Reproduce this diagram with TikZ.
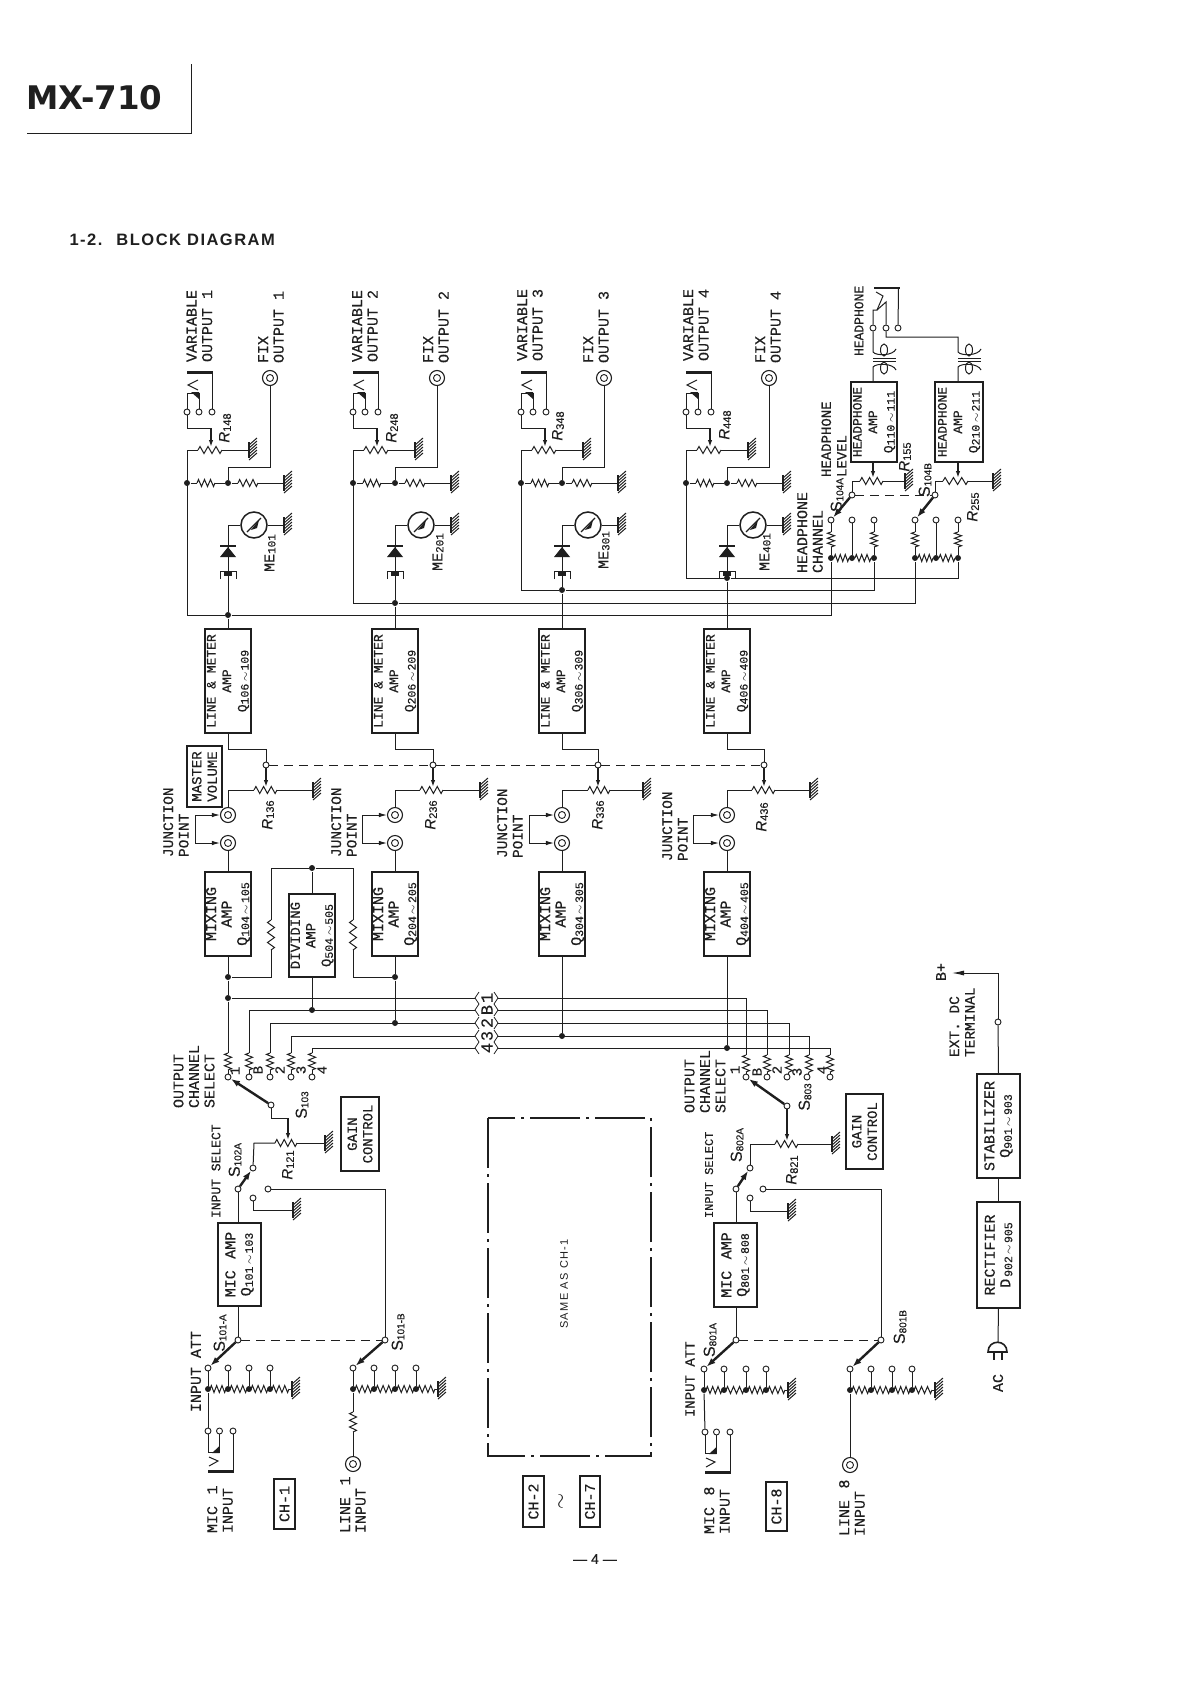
\documentclass[tikz,border=0pt]{standalone}
\usepackage{fontspec}
\setmainfont[FakeBold=0.35]{Liberation Mono}
\newfontfamily\snf[FakeBold=0.25]{Liberation Sans}
\newfontfamily\hdf[LetterSpace=9]{Liberation Sans}
\newfontfamily\smf[LetterSpace=12]{Liberation Sans}
\newfontfamily\ttl{DejaVu Sans}
\usetikzlibrary{arrows.meta}
\newcommand\fs[1]{\fontsize{#1}{15.5}\selectfont}
\newcommand\Qq[1]{Q\raisebox{-2pt}{\fontsize{11.5}{11.5}\selectfont #1}}
\newcommand\Rr[1]{{\snf\itshape\fontsize{15}{15}\selectfont R}\raisebox{-1.5pt}{\snf\fontsize{11}{11}\selectfont #1}}
\newcommand\Ss[1]{{\snf\fontsize{16}{16}\selectfont S}\raisebox{-1.5pt}{\snf\fontsize{10}{10}\selectfont #1}}
\newcommand\Mm[1]{ME\raisebox{-1pt}{\fontsize{11}{11}\selectfont #1}}
\newcounter{lbn}
\tikzset{
 lb/.style={rotate=90,anchor=west,align=left,inner sep=0,outer sep=0},
 lc/.style={rotate=90,anchor=center,align=center,inner sep=0,outer sep=0},
 blk/.style={draw,rotate=90,align=center,inner sep=0,outer sep=0},
 tm/.style={circle,draw,fill=white,inner sep=0,minimum size=6,line width=.9pt},
 dotj/.style={circle,fill,inner sep=0,minimum size=6},
 coax/.style={circle,draw,inner sep=0,minimum size=15,line width=1.1pt},
 coaxi/.style={circle,draw,inner sep=0,minimum size=7,line width=.9pt},
 wip/.style={-{Latex[length=7,width=4.5]},line width=1.4pt},
 lever/.style={line width=2.4pt,-{Latex[length=9,width=6.5]}},
 link/.style={dash pattern=on 9pt off 6pt,line width=.9pt},
 jar/.style={-{Latex[length=8,width=4.5]}},
 dashdot/.style={dash pattern=on 50pt off 6pt on 3pt off 6pt,line width=1.1pt},
}
\newcommand\Lb[4][15]{\stepcounter{lbn}\node[lb,font=\fs{#1}] (lb\arabic{lbn}) at (#2,#3) {#4};}
\newcommand\Lc[4][15]{\stepcounter{lbn}\node[lc,font=\fs{#1}] (lb\arabic{lbn}) at (#2,#3) {#4};}
\newcommand\Bx[8]{\node[blk,line width=#6pt,font=\fs{#7},minimum width={#5-#4},minimum height={#3-#2}] (#1) at ({(#2+#3)/2},{(#4+#5)/2}) {#8};}
\newcommand\RH[3]{\draw ({#1},#3) -- ++({(#2-(#1))/12},-3.5) -- ++({(#2-(#1))/6},7) -- ++({(#2-(#1))/6},-7) -- ++({(#2-(#1))/6},7) -- ++({(#2-(#1))/6},-7) -- ++({(#2-(#1))/6},7) -- ++({(#2-(#1))/12},-3.5);}
\newcommand\RV[3]{\draw (#1,#2) -- ++(-3.5,{(#3-#2)/12}) -- ++(7,{(#3-#2)/6}) -- ++(-7,{(#3-#2)/6}) -- ++(7,{(#3-#2)/6}) -- ++(-7,{(#3-#2)/6}) -- ++(7,{(#3-#2)/6}) -- ++(-3.5,{(#3-#2)/12});}
\newcommand\GH[3]{\coordinate (#1) at (#2,#3);
 \draw[line width=2.4pt] (#2,#3-8) -- (#2,#3+8);
 \foreach \k in {-5,-2,1,4,7,10} {\draw[line width=1pt] (#2,#3+\k) -- (#2+8,#3+\k-7);}}
\newcommand\Co[3]{\node[coax] (#1) at (#2,#3) {}; \node[coaxi] (#1i) at (#2,#3) {};}
\newcommand\Dot[3]{\node[dotj] (#1) at (#2,#3) {};}
\newcommand\Tm[3]{\node[tm] (#1) at (#2,#3) {};}
\newcommand\OutCh[3]{%
 \Tm{#1ta}{#2}{412}\Tm{#1tb}{#2+12}{412}\Tm{#1tc}{#2+25}{412}
 \draw[line width=2.6pt] (#2,372.5) -- (#2+25.5,372.5);
 \draw (#2+25,372) -- (#1tc);
 \draw (#1ta) -- (#2,393) -- (#2+12,393) -- (#1tb);
 \fill (#2+12,392) -- (#2+12,399) -- (#2+4,392) -- cycle;
 \draw (#2+11,380) -- (#2+1,385) -- (#2+11,390);
 \draw (#1ta) -- (#2,428) -- (#2+24,428);
 \draw[wip] (#2+24,428) -- (#2+24,447);
 \coordinate (#1pl) at (#2,450);
 \draw (#1pl) -- (#2+11,450); \RH{#2+11}{#2+35}{450}
 \GH{#1gu}{#2+62}{450}
 \draw (#2+35,450) -- (#1gu);
 \Dot{#1ja}{#2}{483}\Dot{#1jb}{#3}{483}
 \draw (#1ja) -- (#2+10,483); \RH{#2+10}{#2+28}{483} \draw (#2+28,483) -- (#1jb) -- (#3+10,483);
 \RH{#3+10}{#3+30}{483}
 \GH{#1gm}{#3+56}{483}
 \draw (#3+30,483) -- (#1gm);
 \Co{#1fx}{#3+42}{378}
 \draw (#1fx) -- (#3+42,467) -- (#3,467) -- (#1jb);
 \node[circle,draw,inner sep=0,minimum size=26,line width=1.5pt] (#1me) at (#3+26,525) {};
 \GH{#1gl}{#3+56}{525}
 \draw (#1me) -- (#1gl);
 \draw (#1me) -- (#3,525) -- (#3,548);
 \draw[line width=1.3pt] (#3+19,532) -- (#3+33,518);
 \fill (#3+23,530) -- (#3+31,520) -- (#3+29,528) -- cycle;
 \fill (#3-8,557) -- (#3+8,557) -- (#3,547) -- cycle;
 \draw[line width=1.6pt] (#3-8,546) -- (#3+8,546);
 \draw (#3-8,579) -- (#3-8,571) -- (#3+8,571) -- (#3+8,579);
 \fill (#3-4,572) rectangle (#3+4,576);
 \draw (#3,557) -- (#3,572);
}
\newcommand\Lev[7]{%
 \Tm{#1tw}{#3}{765}
 \draw (#2,733) -- (#2,749) -- (#3,749) -- (#1tw);
 \draw[wip] (#1tw) -- (#3,787);
 \Co{#1ju}{#2}{815}\Co{#1jl}{#2}{843}
 \draw (#1ju) -- (#2,790) -- (#4,790);
 \RH{#4}{#5}{790}
 \GH{#1gp}{#6}{790}
 \draw (#5,790) -- (#1gp);
 \draw[jar] (#7,829) -- (#7,815) -- (#1ju.west);
 \draw[jar] (#7,829) -- (#7,843) -- (#1jl.west);
}
\newcommand\Chain[8]{%
 \Tm{#1a}{#2}{#8}\Tm{#1b}{#3}{#8}\Tm{#1c}{#4}{#8}\Tm{#1d}{#5}{#8}
 \Dot{#1ja}{#2}{#7}\Dot{#1jb}{#3}{#7}\Dot{#1jc}{#4}{#7}\Dot{#1jd}{#5}{#7}
 \draw (#1b) -- (#1jb); \draw (#1c) -- (#1jc); \draw (#1d) -- (#1jd); \draw (#1a) -- (#1ja);
 \RH{#2+2}{#3-2}{#7}\RH{#3+2}{#4-2}{#7}\RH{#4+2}{#5-2}{#7}\RH{#5+2}{#6-3}{#7}
 \draw (#6-3,#7) -- (#6,#7);
 \GH{#1g}{#6}{#7}
}
\newcommand\InJack[3]{%
 \Tm{#1a}{#2}{#3}\Tm{#1b}{#2+11.5}{#3}\Tm{#1c}{#2+25}{#3}
 \draw[line width=2.6pt] (#2,#3+40.5) -- (#2+25.5,#3+40.5);
 \draw (#1c) -- (#2+25,#3+41);
 \draw (#1a) -- (#2,#3+21) -- (#2+11.5,#3+21) -- (#1b);
 \fill (#2+11.5,#3+22) -- (#2+11.5,#3+15) -- (#2+4,#3+22) -- cycle;
 \draw (#2+1,#3+26) -- (#2+10,#3+30) -- (#2+1,#3+35);
}
\newcommand\Mark[2]{%
 \draw[line width=.8pt] (479,#1-6) -- (475,#1) -- (479,#1+6);
 \draw[line width=.8pt] (494,#1-6) -- (498,#1) -- (494,#1+6);
 \Lc[17]{487}{#1}{#2}
}
\begin{document}
\begin{tikzpicture}[x=1pt,y=-1pt,line width=1pt,color=black!88,text=black!88]
\fill[white] (0,0) rectangle (1191,1683);
\useasboundingbox (0,0) rectangle (1191,1683);
% heading
\node[anchor=west,inner sep=0,font={\ttl\bfseries\fontsize{32.5}{32.5}\selectfont}] (title) at (26,98) {MX-710};
\coordinate (tc1) at (27,133); \coordinate (tc2) at (191,133); \coordinate (tc3) at (191,64);
\draw[line width=.8pt] (tc1) -- (tc2) -- (tc3);
\node[anchor=west,inner sep=0,font={\hdf\bfseries\fontsize{16.5}{16.5}\selectfont}] (sect) at (69,240) {1-2.\hspace{6pt} BLOCK DIAGRAM};
\node[inner sep=0,font={\snf\fontsize{14}{14}\selectfont}] (pg) at (595,1559) {\textemdash\ 4 \textemdash};

% OUTPUT SECTIONS
\OutCh{a}{187}{228}\OutCh{b}{353}{395}\OutCh{c}{521}{562}\OutCh{d}{686}{727}
\Lb{199.5}{362}{VARIABLE\\OUTPUT 1}\Lb{271}{363}{FIX\\OUTPUT 1}
\Lb{365}{362}{VARIABLE\\OUTPUT 2}\Lb{436}{363}{FIX\\OUTPUT 2}
\Lb{530}{361}{VARIABLE\\OUTPUT 3}\Lb{596}{363}{FIX\\OUTPUT 3}
\Lb{696}{361}{VARIABLE\\OUTPUT 4}\Lb{768}{363}{FIX\\OUTPUT 4}
\Lc{225}{428}{\Rr{148}}\Lc{392}{428}{\Rr{248}}\Lc{558}{426}{\Rr{348}}\Lc{725}{425}{\Rr{448}}
\Lc{270}{553}{\Mm{101}}\Lc{438}{552}{\Mm{201}}\Lc{604}{550}{\Mm{301}}\Lc{765}{552}{\Mm{401}}

% blocks
\Bx{lm1}{205}{251}{629}{733}{1.6}{13}{LINE \& METER\\AMP\\\Qq{106\,$\sim$\,109}}
\Bx{lm2}{372}{418}{629}{733}{1.6}{13}{LINE \& METER\\AMP\\\Qq{206\,$\sim$\,209}}
\Bx{lm3}{539}{585}{629}{733}{1.6}{13}{LINE \& METER\\AMP\\\Qq{306\,$\sim$\,309}}
\Bx{lm4}{704}{750}{629}{733}{1.6}{13}{LINE \& METER\\AMP\\\Qq{406\,$\sim$\,409}}
\Bx{mix1}{205}{251}{872}{956}{1.6}{15}{MIXING\\AMP\\\Qq{104\,$\sim$\,105}}
\Bx{mix2}{372}{418}{872}{956}{1.6}{15}{MIXING\\AMP\\\Qq{204\,$\sim$\,205}}
\Bx{mix3}{539}{585}{872}{956}{1.6}{15}{MIXING\\AMP\\\Qq{304\,$\sim$\,305}}
\Bx{mix4}{704}{750}{872}{956}{1.6}{15}{MIXING\\AMP\\\Qq{404\,$\sim$\,405}}
\Bx{div}{289}{335}{894}{977}{2.2}{14}{DIVIDING\\AMP\\\Qq{504\,$\sim$\,505}}
\Bx{mast}{187}{222}{746}{807}{2}{14}{MASTER\\VOLUME}
\Bx{gc1}{341}{379}{1097}{1171}{1.6}{14}{GAIN\\CONTROL}
\Bx{gc8}{846}{883}{1094}{1169}{1.6}{14}{GAIN\\CONTROL}
\Bx{mic1}{218}{261}{1223}{1306}{1.8}{15}{MIC\, AMP\\\Qq{101\,$\sim$\,103}}
\Bx{mic8}{714}{757}{1223}{1307}{1.8}{15}{MIC\, AMP\\\Qq{801\,$\sim$\,808}}
\Bx{stab}{977}{1020}{1074}{1178}{1.8}{15}{STABILIZER\\\Qq{901\,$\sim$\,903}}
\Bx{rect}{977}{1020}{1202}{1308}{1.8}{15}{RECTIFIER\\D\raisebox{-2pt}{\fontsize{11.5}{11.5}\selectfont\,902\,$\sim$\,905}}
\Bx{hpa}{851}{897}{382}{462}{2}{13}{HEADPHONE\\AMP\\\Qq{110\,$\sim$\,111}}
\Bx{hpb}{935}{983}{382}{462}{2}{13}{HEADPHONE\\AMP\\\Qq{210\,$\sim$\,211}}
\Bx{ch1}{274}{295}{1479}{1529}{1.6}{15}{CH-1}
\Bx{ch2}{523}{544}{1476}{1527}{1.6}{15}{CH-2}
\Bx{ch7}{580}{600}{1476}{1527}{1.6}{15}{CH-7}
\Bx{ch8}{766}{787}{1482}{1531}{1.6}{15}{CH-8}
\Lc[22]{562}{1501}{$\sim$}

% buses to headphone section
\Dot{ja}{228}{615}\Dot{jb}{395}{603}\Dot{jc}{562}{590}\Dot{jd}{727}{578}
\draw (228,572) -- (ja) -- (lm1.east);
\draw (395,572) -- (jb) -- (lm2.east);
\draw (562,572) -- (jc) -- (lm3.east);
\draw (727,572) -- (jd) -- (lm4.east);

% headphone section
\Dot{ha1}{831}{558}\Dot{ha2}{852}{558}\Dot{ha3}{874}{558}
\Dot{hb1}{915}{558}\Dot{hb2}{936}{558}\Dot{hb3}{958}{558}
\Tm{hat1}{831}{520}\Tm{hat2}{852}{520}\Tm{hat3}{874}{520}\Tm{hac}{852}{495}
\Tm{hbt1}{915}{520}\Tm{hbt2}{936}{520}\Tm{hbt3}{958}{520}\Tm{hbc}{935}{495}
\RH{834}{849}{558}\RH{855}{871}{558}\RH{918}{933}{558}\RH{939}{955}{558}
\RV{831}{532}{547}\RV{874}{532}{547}\RV{915}{532}{547}\RV{958}{532}{547}
\draw (hat1) -- (831,532); \draw (831,547) -- (ha1);
\draw (hat3) -- (874,532); \draw (874,547) -- (ha3);
\draw (hbt1) -- (915,532); \draw (915,547) -- (hb1);
\draw (hbt3) -- (958,532); \draw (958,547) -- (hb3);
\draw (hat2) -- (ha2); \draw (hbt2) -- (hb2);
\draw[lever] (hac) -- (hat1); \draw[lever] (hbc) -- (hbt1);
\draw[link] (hac) -- (hbc);
\draw (hac) -- (852,481) -- (860,481); \RH{860}{883}{481} \GH{hag}{905}{481} \draw (883,481) -- (hag);
\draw (hbc) -- (935,481) -- (943,481); \RH{943}{968}{481} \GH{hbg}{993}{481} \draw (968,481) -- (hbg);
\draw[wip] (873,462) -- (873,478); \draw[wip] (958,462) -- (958,478);
\draw (apl) -- (187,615) -- (ja) -- (831,615) -- (ha1);
\draw (bpl) -- (353,603) -- (jb) -- (915,603) -- (hb1);
\draw (cpl) -- (521,590) -- (jc) -- (874,590) -- (ha3);
\draw (dpl) -- (686,578) -- (jd) -- (958,578) -- (hb3);
% headphone jack + transformers
\Tm{ht1}{873}{328}\Tm{ht2}{886}{328}\Tm{ht3}{898}{328}
\draw[line width=2.6pt] (874,288) -- (899.5,288);
\draw (898.5,288) -- (ht3);
\draw (ht1) -- (873,310) -- (877,310) -- (883,296) -- (876,292);
\draw (ht2) -- (886,302) -- (877,310);
\draw (ht1) -- (873,352) .. controls (876,356) and (893,356) .. (896,349);
\draw (884,350) ellipse (3.5 and 6);
\draw (873,358) -- (896,358); \draw (873,361) -- (896,361);
\draw (884,368) ellipse (3.5 and 6);
\draw (873,382) -- (873,367) .. controls (876,363) and (893,363) .. (896,370);
\draw (ht2) -- (886,337) -- (958,337) -- (958,352) .. controls (961,356) and (978,356) .. (981,349);
\draw (969,350) ellipse (3.5 and 6);
\draw (958,358) -- (981,358); \draw (958,361) -- (981,361);
\draw (969,368) ellipse (3.5 and 6);
\draw (958,382) -- (958,367) .. controls (961,363) and (978,363) .. (981,370);
\Lb[13]{859}{356}{HEADPHONE}
\Lb[15]{810}{573}{HEADPHONE\\CHANNEL}
\Lb[14]{834}{477}{HEADPHONE\\LEVEL}
\Lc{837}{495}{\Ss{104A}}\Lc{925}{480}{\Ss{104B}}
\Lc{905}{457}{\Rr{155}}\Lc{973}{507}{\Rr{255}}

% LEVEL SECTION
\Lev{la}{228}{266}{254}{277}{313}{195}
\Lev{lb}{395}{433}{420}{443}{480}{362}
\Lev{lc}{562}{598}{588}{610}{643}{529}
\Lev{ld}{727}{764}{752}{775}{810}{693}
\draw[link] (latw) -- (lbtw) -- (lctw) -- (ldtw);
\Lb[14.5]{176}{857}{JUNCTION\\POINT}\Lb[14.5]{344}{857}{JUNCTION\\POINT}
\Lb[14.5]{510}{858}{JUNCTION\\POINT}\Lb[14.5]{675}{861}{JUNCTION\\POINT}
\Lc{268}{815}{\Rr{136}}\Lc{431}{815}{\Rr{236}}\Lc{598}{815}{\Rr{336}}\Lc{762}{817}{\Rr{436}}
\draw (lajl) -- (mix1.east); \draw (lbjl) -- (mix2.east);
\draw (lcjl) -- (mix3.east); \draw (ldjl) -- (mix4.east);

% DIVIDING AMP
\Dot{dj}{312}{868}\Dot{mj1}{228}{977}\Dot{mj2}{395}{977}
\draw (div.east) -- (dj);
\draw (dj) -- (271,868) -- (271,920); \RV{271}{920}{950} \draw (271,950) -- (271,977) -- (mj1);
\draw (dj) -- (353,868) -- (353,920); \RV{353}{920}{950} \draw (353,950) -- (353,977) -- (mj2);

% SELECT BUS
\Dot{sj1}{228}{998}\Dot{dv}{312}{1010}\Dot{m2}{395}{1023}\Dot{m3}{562}{1036}\Dot{m4}{727}{1048}
\draw (mix1.west) -- (mj1) -- (sj1) -- (228,1053);
\draw (div.west) -- (dv);
\draw (mix2.west) -- (mj2) -- (m2);
\draw (mix3.west) -- (m3);
\draw (mix4.west) -- (m4);
\draw (sj1) -- (475,998); \draw (498,998) -- (746,998) -- (746,1055);
\draw (249,1053) -- (249,1010) -- (475,1010); \draw (498,1010) -- (767,1010) -- (767,1055);
\draw (270,1053) -- (270,1023) -- (475,1023); \draw (498,1023) -- (789,1023) -- (789,1055);
\draw (291,1053) -- (291,1036) -- (475,1036); \draw (498,1036) -- (809,1036) -- (809,1055);
\draw (312,1053) -- (312,1048) -- (475,1048); \draw (498,1048) -- (830,1048) -- (830,1055);
\Mark{998}{1}\Mark{1010}{B}\Mark{1023}{2}\Mark{1036}{3}\Mark{1048}{4}

% CH-1 select
\Tm{st1}{228}{1077}\Tm{st2}{249}{1077}\Tm{st3}{270}{1077}\Tm{st4}{291}{1077}\Tm{st5}{312}{1077}
\RV{228}{1053}{1070}\RV{249}{1053}{1070}\RV{270}{1053}{1070}\RV{291}{1053}{1070}\RV{312}{1053}{1070}
\draw (228,1070) -- (st1); \draw (249,1070) -- (st2); \draw (270,1070) -- (st3); \draw (291,1070) -- (st4); \draw (312,1070) -- (st5);
\Lc[14]{235}{1071}{1}\Lc[14]{258}{1070}{B}\Lc[14]{280}{1070}{2}\Lc[14]{301}{1070}{3}\Lc[14]{322}{1070}{4}
\Tm{scm}{271}{1105}
\draw[lever] (scm) -- (st1);
\draw (scm) -- (271,1118) -- (288,1118);
\draw[wip] (288,1118) -- (288,1140);
\RH{275}{297}{1143}
\GH{sgn}{325}{1143}
\draw (297,1143) -- (sgn);
\Tm{ipc}{253}{1168}\Tm{ipa}{238}{1189}\Tm{ipb}{253}{1198}\Tm{ipd}{268}{1189}
\draw (ipc) -- (254,1143) -- (275,1143);
\draw[lever] (ipa) -- (ipc);
\draw (ipa) -- (238,1223);
\GH{ipg}{293}{1210}
\draw (ipb) -- (253,1210) -- (ipg);
\Tm{ac}{238}{1340}\Tm{bc}{385}{1340}
\draw (ipd) -- (385,1189) -- (bc);
\draw (238,1306) -- (ac);
\draw[link] (ac) -- (bc);
\Chain{pa}{208}{228}{249}{270}{292}{1389}{1368}
\Chain{pb}{353}{374}{395}{416}{438}{1389}{1368}
\draw[lever] (ac) -- (paa); \draw[lever] (bc) -- (pba);
\InJack{ji1}{208}{1431}
\draw (paja) -- (ji1a);
\RV{353}{1412}{1432}
\draw (pbja) -- (353,1412); \Co{lj1}{353}{1464} \draw (353,1432) -- (lj1);
\Lb{194}{1108}{OUTPUT\\CHANNEL\\SELECT}
\Lb[13]{216}{1218}{INPUT SELECT}
\Lb{196}{1412}{INPUT ATT}
\Lb{220}{1533}{MIC\, 1\\INPUT}
\Lb{353}{1533}{LINE\, 1\\INPUT}
\Lc{302}{1105}{\Ss{103}}\Lc{235}{1160}{\Ss{102A}}\Lc{288}{1165}{\Rr{121}}
\Lc{220}{1333}{\Ss{101-A}}\Lc{398}{1332}{\Ss{101-B}}

% SAME AS CH-1
\coordinate (sa) at (488,1118); \coordinate (sb) at (651,1456);
\draw[dashdot] (sa) rectangle (sb);
\node[lc,font={\smf\fontsize{11}{11}\selectfont}] (same) at (564,1284) {SAME AS CH-1};

% CH-8 select
\Tm{tt1}{746}{1077}\Tm{tt2}{767}{1077}\Tm{tt3}{787}{1077}\Tm{tt4}{807}{1077}\Tm{tt5}{830}{1077}
\RV{746}{1055}{1072}\RV{767}{1055}{1072}\RV{789}{1055}{1072}\RV{809}{1055}{1072}\RV{830}{1055}{1072}
\draw (746,1072) -- (tt1); \draw (767,1072) -- (tt2); \draw (789,1072) -- (tt3); \draw (809,1072) -- (tt4); \draw (830,1072) -- (tt5);
\Lc[14]{735}{1070}{1}\Lc[14]{757}{1072}{B}\Lc[14]{777}{1070}{2}\Lc[14]{797}{1072}{3}\Lc[14]{822}{1070}{4}
\Tm{tcm}{787}{1106}
\draw[lever] (tcm) -- (tt1);
\draw[wip] (tcm) -- (787,1141);
\RH{775}{798}{1144}
\GH{tgn}{832}{1144}
\draw (798,1144) -- (tgn);
\Tm{iqc}{750}{1168}\Tm{iqa}{736}{1189}\Tm{iqb}{750}{1198}\Tm{iqd}{763}{1189}
\draw (iqc) -- (750,1144) -- (775,1144);
\draw[lever] (iqa) -- (iqc);
\draw (iqa) -- (736,1223);
\GH{iqg}{788}{1211}
\draw (iqb) -- (750,1211) -- (iqg);
\Tm{cc}{736}{1340}\Tm{dc}{881}{1340}
\draw (iqd) -- (881,1189) -- (dc);
\draw (736,1307) -- (cc);
\draw[link] (cc) -- (dc);
\Chain{qa}{704}{724}{746}{766}{788}{1390}{1369}
\Chain{qb}{850}{871}{892}{912}{935}{1390}{1369}
\draw[lever] (cc) -- (qaa); \draw[lever] (dc) -- (qba);
\InJack{ji8}{705}{1432}
\draw (qaja) -- (ji8a);
\Co{lj8}{850}{1465}
\draw (qbja) -- (lj8);
\Lb{705}{1113}{OUTPUT\\CHANNEL\\SELECT}
\Lb[12]{709}{1218}{INPUT SELECT}
\Lb[14]{690}{1417}{INPUT ATT}
\Lb{717}{1534}{MIC\, 8\\INPUT}
\Lb{852}{1536}{LINE\, 8\\INPUT}
\Lc{805}{1097}{\Ss{803}}\Lc{737}{1145}{\Ss{802A}}\Lc{792}{1170}{\Rr{821}}
\Lc{710}{1340}{\Ss{801A}}\Lc{900}{1327}{\Ss{801B}}

% POWER
\Tm{ext}{998}{1022}
\coordinate (bp) at (952,973);
\draw[-{Latex[length=12,width=5]}] (ext) -- (998,973) -- (bp);
\draw (ext) -- (stab.east);
\draw (stab.west) -- (rect.east);
\coordinate (plg) at (998,1342);
\draw (rect.west) -- (plg);
\draw[line width=1.6pt] (988,1352) .. controls (988,1339) and (1007,1339) .. (1007,1352) -- cycle;
\draw[line width=1.4pt] (994,1352) -- (994,1360); \draw[line width=1.4pt] (1002,1352) -- (1002,1360);
\Lc{941}{972}{B+}
\Lb[14.5]{962}{1057}{EXT. DC\\TERMINAL}
\Lc{998}{1383}{AC}
\end{tikzpicture}
\end{document}
